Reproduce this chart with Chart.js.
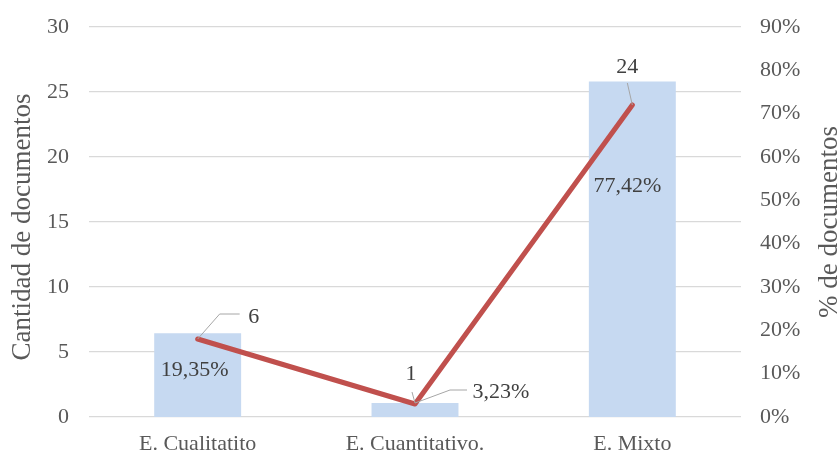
<!DOCTYPE html>
<html>
<head>
<meta charset="utf-8">
<script src="https://cdn.jsdelivr.net/npm/chart.js@4/dist/chart.umd.min.js"></script>
<style>
  html, body { margin: 0; padding: 0; background: #fff; }
  #wrap { width: 840px; height: 456px; position: relative; }
</style>
</head>
<body>
<div id="wrap"><canvas id="c" width="840" height="456"></canvas></div>
<script>
// Document counts by study type
const categories = ['E. Cualitatito', 'E. Cuantitativo.', 'E. Mixto'];
const counts = [6, 1, 24];
const percents = [19.35, 3.23, 77.42];
const countLabels = ['6', '1', '24'];
const percentLabels = ['19,35%', '3,23%', '77,42%'];

const FONT = "'Liberation Serif', 'Times New Roman', serif";
const TEXT = '#595959';
const LABEL = '#404040';
const LEADER = '#a6a6a6';

// Label placement (offsets from the mark in pixels) and leader line paths
const countLabelOffsets = [[56, -22], [-4, -30], [-5, -38]];
const countLeaders = [
  [[0, 0], [22, -25], [42, -25]],
  [[0, -1], [-3, -12]],
  [[0, 0], [-5, -22]]
];
const percentLabelPos = [
  { dx: -3, dy: 37 },
  { dx: 86, dy: -11 },
  { dx: -5, dy: 105 }
];
const percentLeaders = [
  null,
  [[0, 0], [35, -13], [52, -13]],
  null
];

const labelPlugin = {
  id: 'valueLabels',
  afterDatasetsDraw(chart) {
    const ctx = chart.ctx;
    const lineMeta = chart.getDatasetMeta(0);
    const barMeta = chart.getDatasetMeta(1);
    ctx.save();
    ctx.font = '22px ' + FONT;
    ctx.textAlign = 'center';
    ctx.textBaseline = 'middle';
    ctx.strokeStyle = LEADER;
    ctx.lineWidth = 1;
    const path = (pts, x, y) => {
      ctx.beginPath();
      pts.forEach((p, i) => i ? ctx.lineTo(x + p[0], y + p[1]) : ctx.moveTo(x + p[0], y + p[1]));
      ctx.stroke();
    };
    lineMeta.data.forEach((pt, i) => {
      const lp = countLeaders[i];
      if (lp) path(lp, pt.x, pt.y);
      ctx.fillStyle = LABEL;
      ctx.fillText(countLabels[i], pt.x + countLabelOffsets[i][0], pt.y + countLabelOffsets[i][1]);
    });
    barMeta.data.forEach((bar, i) => {
      const pl = percentLeaders[i];
      if (pl) path(pl, bar.x, bar.y);
      const pos = percentLabelPos[i];
      ctx.fillStyle = LABEL;
      ctx.fillText(percentLabels[i], bar.x + pos.dx, bar.y + pos.dy);
    });
    ctx.restore();
  }
};

// Axis titles, both reading bottom to top
const titlePlugin = {
  id: 'axisTitles',
  afterDraw(chart) {
    const ctx = chart.ctx;
    ctx.save();
    ctx.font = '27px ' + FONT;
    ctx.fillStyle = TEXT;
    ctx.textAlign = 'center';
    ctx.textBaseline = 'middle';
    [[23, 227, 'Cantidad de documentos'], [830, 222, '% de documentos']].forEach(([x, y, t]) => {
      ctx.save();
      ctx.translate(x, y);
      ctx.rotate(-Math.PI / 2);
      ctx.fillText(t, 0, 0);
      ctx.restore();
    });
    ctx.restore();
  }
};

Chart.defaults.font.family = FONT;
Chart.defaults.font.size = 22;
Chart.defaults.color = TEXT;

const fitVertical = w => s => { s.width = w; s.paddingTop = 0; s.paddingBottom = 0; };

new Chart(document.getElementById('c'), {
  data: {
    labels: categories,
    datasets: [
      {
        type: 'line',
        label: 'Cantidad',
        data: counts,
        yAxisID: 'y',
        borderColor: '#C0504D',
        borderWidth: 5,
        borderJoinStyle: 'round',
        borderCapStyle: 'round',
        pointRadius: 0,
        tension: 0,
        fill: false
      },
      {
        type: 'bar',
        label: 'Porcentaje',
        data: percents,
        yAxisID: 'y1',
        backgroundColor: '#C6D9F1',
        categoryPercentage: 0.8,
        barPercentage: 0.5
      }
    ]
  },
  plugins: [labelPlugin, titlePlugin],
  options: {
    responsive: false,
    animation: false,
    layout: { padding: { top: 27, left: 0, right: 0, bottom: 0 } },
    plugins: { legend: { display: false }, tooltip: { enabled: false } },
    scales: {
      x: {
        grid: { display: false, drawTicks: false },
        border: { display: false },
        ticks: { padding: 14, color: TEXT, maxRotation: 0 },
        afterFit(s) { s.height = 39; s.paddingLeft = 0; s.paddingRight = 0; }
      },
      y: {
        position: 'left',
        min: 0, max: 30,
        ticks: { stepSize: 5, padding: 20, color: TEXT },
        grid: { color: '#D9D9D9', lineWidth: 1.3, drawTicks: false },
        border: { display: false },
        afterFit: fitVertical(89)
      },
      y1: {
        position: 'right',
        min: 0, max: 90,
        ticks: { stepSize: 10, padding: 19, color: TEXT, callback: v => v + '%' },
        grid: { display: false, drawTicks: false },
        border: { display: false },
        afterFit: fitVertical(99)
      }
    }
  }
});
</script>
</body>
</html>
